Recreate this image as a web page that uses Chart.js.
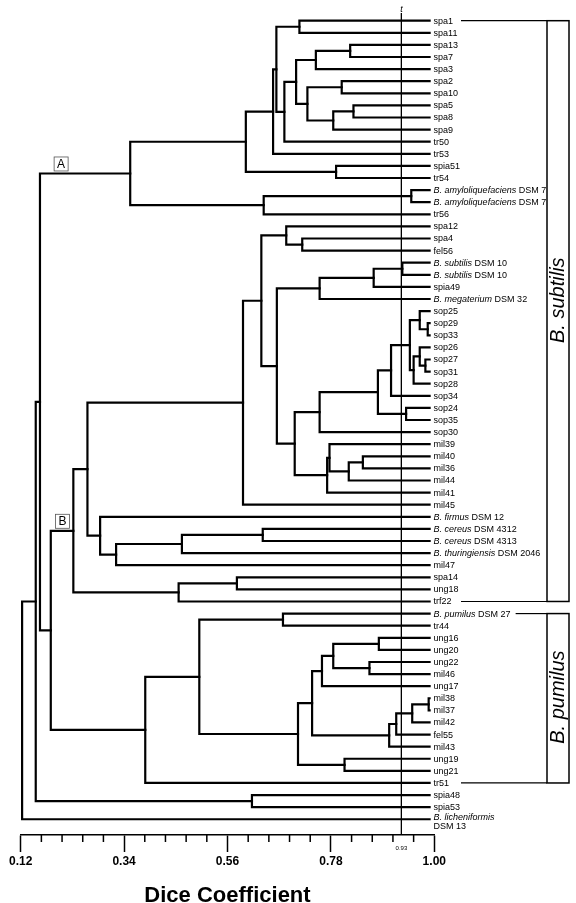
<!DOCTYPE html>
<html>
<head>
<meta charset="utf-8">
<script src="https://cdn.jsdelivr.net/npm/chart.js@4.4.1/dist/chart.umd.min.js"></script>
<style>
  html, body { margin: 0; padding: 0; background: #fff; }
  canvas { display: block; }
</style>
</head>
<body>
<canvas id="chart" width="576" height="903"></canvas>
<script>
const FONT = '"Liberation Sans", Arial, sans-serif';

// leaves, top to bottom
const leaves = [
  'spa1', 'spa11', 'spa13', 'spa7', 'spa3', 'spa2', 'spa10', 'spa5', 'spa8', 'spa9',
  'tr50', 'tr53', 'spia51', 'tr54', 'B. amyloliquefaciens DSM 7', 'B. amyloliquefaciens DSM 7', 'tr56',
  'spa12', 'spa4', 'fel56', 'B. subtilis DSM 10', 'B. subtilis DSM 10', 'spia49', 'B. megaterium DSM 32',
  'sop25', 'sop29', 'sop33', 'sop26', 'sop27', 'sop31', 'sop28', 'sop34', 'sop24', 'sop35', 'sop30',
  'mil39', 'mil40', 'mil36', 'mil44', 'mil41', 'mil45',
  'B. firmus DSM 12', 'B. cereus DSM 4312', 'B. cereus DSM 4313', 'B. thuringiensis DSM 2046', 'mil47',
  'spa14', 'ung18', 'trf22',
  'B. pumilus DSM 27', 'tr44', 'ung16', 'ung20', 'ung22', 'mil46', 'ung17',
  'mil38', 'mil37', 'mil42', 'fel55', 'mil43', 'ung19', 'ung21', 'tr51',
  'spia48', 'spia53', 'B. licheniformis\nDSM 13'
];

// merges: leaf i is id i, merge k is id leaves.length + k
const mergePairs = [
  [0, 1], [2, 3], [68, 4], [5, 6], [7, 8], [71, 9], [70, 72], [69, 73], [74, 10], [67, 75],
  [76, 11], [12, 13], [77, 78], [14, 15], [80, 16], [79, 81],
  [18, 19], [17, 83], [20, 21], [85, 22], [86, 23],
  [25, 26], [24, 88], [28, 29], [27, 90], [91, 30], [89, 92], [93, 31], [32, 33], [94, 95], [96, 34],
  [36, 37], [98, 38], [35, 99], [100, 39], [97, 101], [87, 102], [84, 103], [104, 40],
  [42, 43], [106, 44], [107, 45], [41, 108], [105, 109], [46, 47], [111, 48], [110, 112],
  [49, 50], [51, 52], [53, 54], [115, 116], [117, 55], [56, 57], [119, 58], [120, 59], [121, 60],
  [118, 122], [61, 62], [123, 124], [114, 125], [126, 63], [113, 127],
  [82, 128], [64, 65], [129, 130], [131, 66]
];
const mergeDice = [
  0.713, 0.821, 0.748, 0.803, 0.828, 0.785, 0.730, 0.706, 0.681, 0.664,
  0.657, 0.791, 0.599, 0.951, 0.637, 0.353,
  0.719, 0.685, 0.932, 0.871, 0.756,
  0.986, 0.969, 0.981, 0.969, 0.956, 0.948, 0.908, 0.940, 0.880, 0.756,
  0.848, 0.818, 0.777, 0.772, 0.703, 0.665, 0.632, 0.593,
  0.635, 0.463, 0.323, 0.289, 0.262, 0.580, 0.456, 0.232,
  0.678, 0.882, 0.862, 0.785, 0.761, 0.988, 0.953, 0.919, 0.904,
  0.740, 0.809, 0.710, 0.500, 0.385, 0.184,
  0.161, 0.612, 0.152, 0.123
];

const leafEnd = 0.99;
const cutoff = 0.93;
const majorTicks = [0.12, 0.34, 0.56, 0.78, 1.00];
const minorTicks = [0.164, 0.208, 0.252, 0.296, 0.384, 0.428, 0.472, 0.516,
  0.604, 0.648, 0.692, 0.736, 0.824, 0.868, 0.912, 0.956];

const groupNames = ['B. subtilis', 'B. pumilus'];
const groupFirst = [0, 49];
const groupLast = [48, 63];
const groupTextAt = [23.1, 55.9];

const markerNames = ['A', 'B'];
const markerNode = [82, 113];
const markerX = [0.206, 0.209];

// node positions
const nodeX = leaves.map(() => leafEnd);
const nodeY = leaves.map((_, i) => i);
mergePairs.forEach(([a, b], k) => {
  nodeX.push(mergeDice[k]);
  nodeY.push((nodeY[a] + nodeY[b]) / 2);
});

const treeSets = mergePairs.map(([a, b], k) => ({
  data: [
    {x: nodeX[a], y: nodeY[a]},
    {x: mergeDice[k], y: nodeY[a]},
    {x: mergeDice[k], y: nodeY[b]},
    {x: nodeX[b], y: nodeY[b]}
  ],
  showLine: true,
  borderColor: '#000',
  borderWidth: 2.2,
  borderJoinStyle: 'miter',
  borderCapStyle: 'square',
  pointRadius: 0,
  order: 1
}));

const cutLine = {
  data: [{x: cutoff, y: -0.636}, {x: cutoff, y: 67.3}],
  showLine: true,
  borderColor: '#000',
  borderWidth: 1,
  pointRadius: 0,
  order: 0
};

function drawLabel(ctx, text, x0, y0) {
  let px = x0;
  const m = text.match(/^(B\. \S+)(.*)$/);
  const parts = m ? [[m[1], 'italic '], [m[2], '']] : [[text, '']];
  parts.forEach(([t, style]) => {
    ctx.font = style + '9px ' + FONT;
    ctx.fillText(t, px, y0);
    px += ctx.measureText(t).width;
  });
  return px;
}

const paper = {
  id: 'paper',
  beforeDraw(chart) {
    const ctx = chart.ctx;
    ctx.save();
    ctx.fillStyle = '#fff';
    ctx.fillRect(0, 0, chart.width, chart.height);
    ctx.restore();
  }
};

const annotate = {
  id: 'annotate',
  afterDraw(chart) {
    const {ctx, chartArea, scales: {x, y}} = chart;
    ctx.save();
    ctx.strokeStyle = '#000';
    ctx.fillStyle = '#000';

    // minor ticks
    ctx.lineWidth = 1.5;
    ctx.beginPath();
    minorTicks.forEach(v => {
      const px = x.getPixelForValue(v);
      ctx.moveTo(px, chartArea.bottom);
      ctx.lineTo(px, chartArea.bottom + 7);
    });
    ctx.stroke();

    // cutoff
    const cx = x.getPixelForValue(cutoff);
    ctx.textAlign = 'center';
    ctx.textBaseline = 'middle';
    ctx.font = 'italic 9px ' + FONT;
    ctx.fillText('t', cx, chartArea.top - 4);
    ctx.font = '6px ' + FONT;
    ctx.fillText('0.93', cx, chartArea.bottom + 13);

    // leaf labels
    ctx.textAlign = 'left';
    const lx = x.getPixelForValue(leafEnd) + 4;
    const labelEnds = leaves.map((name, i) => {
      const lines = name.split('\n');
      const py = y.getPixelForValue(i);
      let end = lx;
      lines.forEach((line, j) => {
        const ly = lines.length > 1 ? py - 2 + j * 9 : py + 0.5;
        end = Math.max(end, drawLabel(ctx, line, lx, ly));
      });
      return end;
    });

    // species boxes
    const boxL = 547, boxR = 569;
    groupNames.forEach((name, g) => {
      const top = y.getPixelForValue(groupFirst[g]);
      const bot = y.getPixelForValue(groupLast[g]);
      ctx.lineWidth = 1.5;
      ctx.strokeRect(boxL, top, boxR - boxL, bot - top);
      ctx.lineWidth = 1.2;
      [groupFirst[g], groupLast[g]].forEach(i => {
        const py = y.getPixelForValue(i);
        ctx.beginPath();
        ctx.moveTo(Math.max(461, labelEnds[i] + 5), py);
        ctx.lineTo(boxL, py);
        ctx.stroke();
      });
      ctx.save();
      ctx.translate((boxL + boxR) / 2, y.getPixelForValue(groupTextAt[g]));
      ctx.rotate(-Math.PI / 2);
      ctx.font = 'italic 20px ' + FONT;
      ctx.textAlign = 'center';
      ctx.textBaseline = 'middle';
      ctx.fillText(name, 0, 0);
      ctx.restore();
    });

    // cluster markers
    markerNames.forEach((m, i) => {
      const mx = x.getPixelForValue(markerX[i]);
      const py = y.getPixelForValue(nodeY[markerNode[i]]);
      ctx.fillStyle = '#fff';
      ctx.fillRect(mx - 7, py - 16.5, 14, 14);
      ctx.strokeStyle = '#555';
      ctx.lineWidth = 0.8;
      ctx.strokeRect(mx - 7, py - 16.5, 14, 14);
      ctx.fillStyle = '#000';
      ctx.font = '12px ' + FONT;
      ctx.textAlign = 'center';
      ctx.textBaseline = 'middle';
      ctx.fillText(m, mx, py - 9);
    });
    ctx.restore();
  }
};

new Chart(document.getElementById('chart'), {
  type: 'scatter',
  data: { datasets: [cutLine, ...treeSets] },
  options: {
    responsive: false,
    animation: false,
    devicePixelRatio: 1,
    layout: { padding: { top: 13, left: 20.7, right: 141.7, bottom: 0 } },
    plugins: { legend: { display: false }, tooltip: { enabled: false } },
    scales: {
      x: {
        type: 'linear',
        min: 0.12,
        max: 1.0,
        afterBuildTicks: s => { s.ticks = majorTicks.map(v => ({ value: v })); },
        afterFit: s => { s.height = 68; },
        grid: { drawOnChartArea: false, drawTicks: true, tickLength: 17, tickWidth: 1.5, tickColor: '#000' },
        border: { display: true, color: '#000', width: 1.5 },
        ticks: {
          padding: 2.5,
          color: '#000',
          maxRotation: 0,
          autoSkip: false,
          font: { family: FONT, weight: 'bold', size: 12 },
          callback: v => v.toFixed(2)
        },
        title: {
          display: true,
          text: 'Dice Coefficient',
          color: '#000',
          padding: 0,
          font: { family: FONT, weight: 'bold', size: 22, lineHeight: 0.6 }
        }
      },
      y: { type: 'linear', reverse: true, min: -0.636, max: 67.3, display: false }
    }
  },
  plugins: [paper, annotate]
});
</script>
</body>
</html>
